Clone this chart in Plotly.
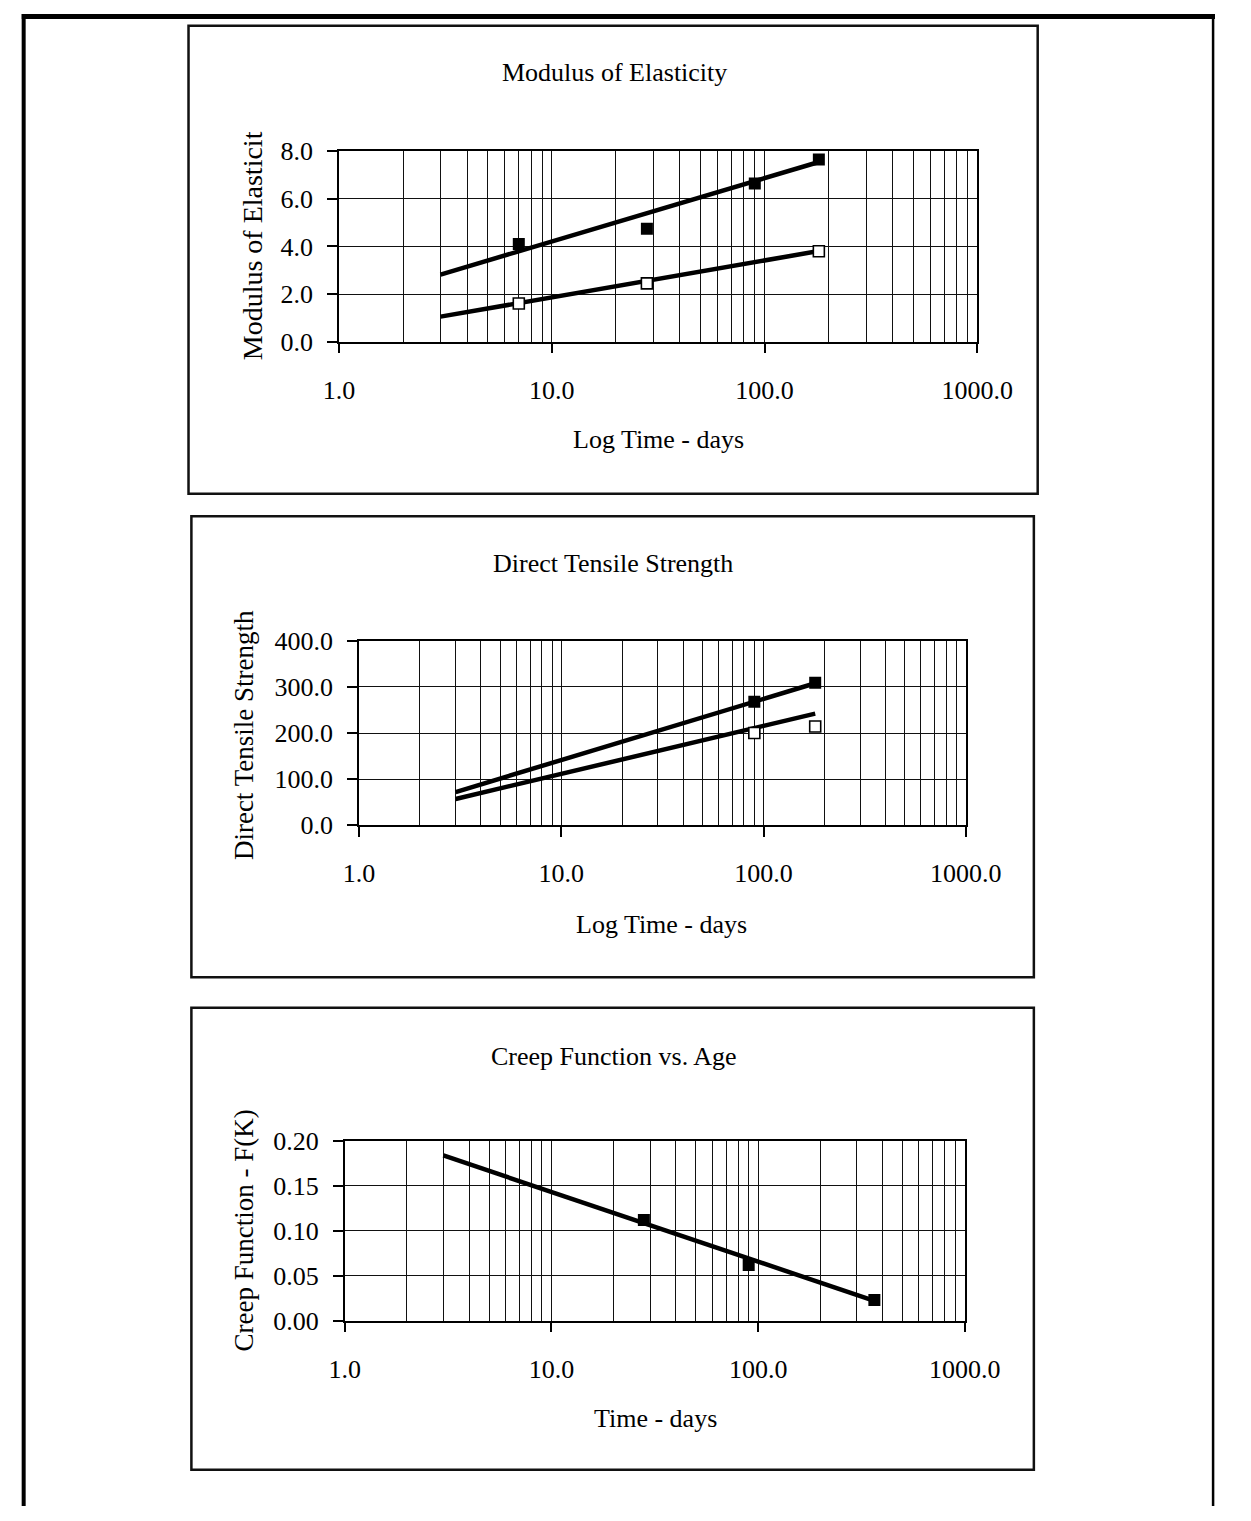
import plotly.graph_objects as go

# ---------------------------------------------------------------------------
# Data (age in days, log time scale)
# ---------------------------------------------------------------------------
# Modulus of Elasticity
moe_days_filled = [7, 28, 90, 180]
moe_filled = [4.1, 4.75, 6.65, 7.66]
moe_days_open = [7, 28, 180]
moe_open = [1.6, 2.45, 3.8]
moe_fit_days = [3, 180]
moe_fit_filled = [2.82, 7.55]
moe_fit_open = [1.05, 3.81]

# Direct Tensile Strength
dts_days = [90, 180]
dts_filled = [268, 309]
dts_open = [200, 214]
dts_fit_days = [3, 180]
dts_fit_filled = [72, 308]
dts_fit_open = [57, 242]

# Creep Function vs. Age
creep_days = [28, 90, 365]
creep_fk = [0.112, 0.062, 0.023]
creep_fit_days = [3, 365]
creep_fit = [0.184, 0.022]

x_tick_vals = [1, 10, 100, 1000]
x_tick_text = ["1.0", "10.0", "100.0", "1000.0"]

chart_titles = ["Modulus of Elasticity", "Direct Tensile Strength", "Creep Function vs. Age"]
x_titles = ["Log Time - days", "Log Time - days", "Time - days"]
y_titles = ["Modulus of Elasticit", "Direct Tensile Strength", "Creep Function - F(K)"]

# ---------------------------------------------------------------------------
# Page geometry (pixels) -> paper coordinates
# ---------------------------------------------------------------------------
W, H = 1251, 1521


def px(x):
    return x / W


def py(y):
    return 1 - y / H


FONT = "Liberation Serif, Times New Roman, serif"
FS = 26

minor_vals = [m * 10 ** k for k in range(3) for m in range(2, 10)]

# plot rectangles (left, right, top, bottom) in pixels
plots = [
    dict(l=337, r=1003, t=140, b=334, yr=[0, 8], dtick=2, fmt=".1f"),
    dict(l=358, r=991, t=639, b=827, yr=[0, 400], dtick=100, fmt=".1f"),
    dict(l=343, r=990, t=1149, b=1332, yr=[0, 0.2], dtick=0.05, fmt=".2f"),
]
# surrounding frames (left, top, right, bottom)
frames = [(180, 12, 1066, 489), (183, 512, 1062, 982), (183, 1013, 1062, 1484)]
title_pos = [(624, 60), (623, 560), (624, 1063)]
xtitle_pos = [(670, 434), (674, 928), (667, 1432)]
ytitle_pos = [(247, 236), (238, 735), (238, 1240)]
ytitle_size = [28, 27, 27]

fig = go.Figure()

line_style = dict(color="black", width=4.5)
filled_marker = dict(symbol="square", size=12, color="black")
open_marker = dict(symbol="square", size=11, color="white", line=dict(color="black", width=1.6))


def add(ax, **kw):
    suffix = "" if ax == 1 else str(ax)
    fig.add_trace(go.Scatter(xaxis="x" + suffix, yaxis="y" + suffix, showlegend=False,
                             hoverinfo="skip", **kw))


# Panel 1
add(1, x=moe_fit_days, y=moe_fit_filled, mode="lines", line=line_style)
add(1, x=moe_fit_days, y=moe_fit_open, mode="lines", line=line_style)
add(1, x=moe_days_filled, y=moe_filled, mode="markers", marker=filled_marker)
add(1, x=moe_days_open, y=moe_open, mode="markers", marker=open_marker)

# Panel 2
add(2, x=dts_fit_days, y=dts_fit_filled, mode="lines", line=line_style)
add(2, x=dts_fit_days, y=dts_fit_open, mode="lines", line=line_style)
add(2, x=dts_days, y=dts_filled, mode="markers", marker=filled_marker)
add(2, x=dts_days, y=dts_open, mode="markers", marker=open_marker)

# Panel 3
add(3, x=creep_fit_days, y=creep_fit, mode="lines", line=line_style)
add(3, x=creep_days, y=creep_fk, mode="markers", marker=filled_marker)

layout = dict(
    width=W, height=H, autosize=False,
    margin=dict(l=0, r=0, t=0, b=0, pad=0),
    paper_bgcolor="white", plot_bgcolor="white",
    showlegend=False,
    font=dict(family=FONT, size=FS, color="black"),
)

GRID = "#111111"

for i, p in enumerate(plots):
    suffix = "" if i == 0 else str(i + 1)
    layout["xaxis" + suffix] = dict(
        type="log", range=[0, 3], domain=[px(p["l"]), px(p["r"])],
        anchor="y" + suffix,
        tickmode="array", tickvals=x_tick_vals, ticktext=x_tick_text,
        ticks="outside", ticklen=10, tickwidth=1.5, tickcolor="black",
        showgrid=True, gridcolor=GRID, gridwidth=1.4,
        minor=dict(tickmode="array", tickvals=minor_vals, showgrid=True,
                   gridcolor=GRID, gridwidth=1.4, ticks=""),
        showline=True, linecolor="black", linewidth=1.6, mirror=True,
        zeroline=False, ticklabelstandoff=14,
        tickfont=dict(family=FONT, size=FS, color="black"),
    )
    layout["yaxis" + suffix] = dict(
        range=p["yr"], domain=[py(p["b"]), py(p["t"])],
        anchor="x" + suffix,
        tick0=0, dtick=p["dtick"], tickformat=p["fmt"],
        ticks="outside", ticklen=10, tickwidth=1.5, tickcolor="black",
        showgrid=True, gridcolor=GRID, gridwidth=1.4,
        showline=True, linecolor="black", linewidth=1.6, mirror=True,
        zeroline=False, ticklabelstandoff=9,
        tickfont=dict(family=FONT, size=FS, color="black"),
    )

shapes = []
# outer page rule
shapes.append(dict(type="line", xref="paper", yref="paper", x0=px(6), x1=1, y0=py(2.5), y1=py(2.5),
                   line=dict(color="black", width=5)))
shapes.append(dict(type="line", xref="paper", yref="paper", x0=px(8), x1=px(8), y0=0, y1=1,
                   line=dict(color="black", width=4)))
shapes.append(dict(type="line", xref="paper", yref="paper", x0=px(1249), x1=px(1249), y0=0, y1=1,
                   line=dict(color="black", width=2.5)))
for (l, t, r, b) in frames:
    shapes.append(dict(type="rect", xref="paper", yref="paper",
                       x0=px(l), x1=px(r), y0=py(b), y1=py(t),
                       line=dict(color="#111111", width=2.5), fillcolor="rgba(0,0,0,0)",
                       layer="below"))
layout["shapes"] = shapes

annotations = []
for i in range(3):
    tx, ty = title_pos[i]
    annotations.append(dict(text=chart_titles[i], x=px(tx), y=py(ty), xref="paper", yref="paper",
                            xanchor="center", yanchor="middle", showarrow=False,
                            font=dict(family=FONT, size=FS, color="black")))
    ax_, ay_ = xtitle_pos[i]
    annotations.append(dict(text=x_titles[i], x=px(ax_), y=py(ay_), xref="paper", yref="paper",
                            xanchor="center", yanchor="middle", showarrow=False,
                            font=dict(family=FONT, size=FS, color="black")))
    bx, by = ytitle_pos[i]
    annotations.append(dict(text=y_titles[i], x=px(bx), y=py(by), xref="paper", yref="paper",
                            xanchor="center", yanchor="middle", showarrow=False, textangle=-90,
                            font=dict(family=FONT, size=ytitle_size[i], color="black")))
layout["annotations"] = annotations

fig.update_layout(**layout)

# fixed-size page: no body margin, no scrollbars
page_css = (
    "document.body.style.margin='0';"
    "document.body.style.padding='0';"
    "document.documentElement.style.overflow='hidden';"
)
fig.write_html("out.html", config={"responsive": False, "displayModeBar": False},
               post_script=page_css)
